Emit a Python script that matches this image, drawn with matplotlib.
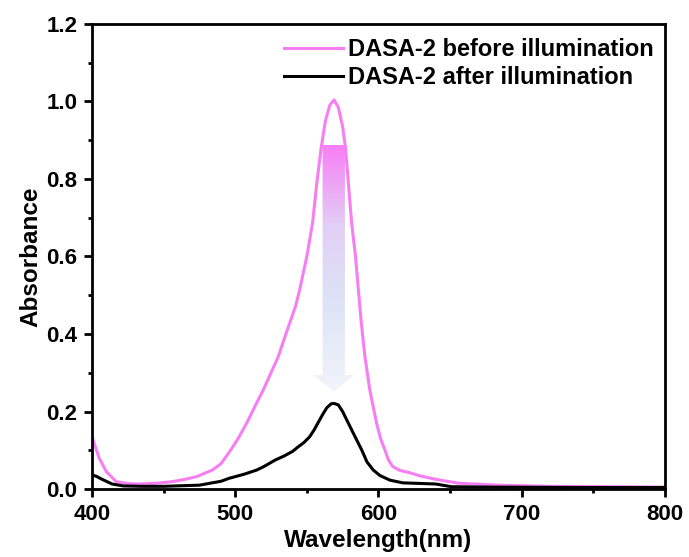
import numpy as np
import matplotlib.pyplot as plt
from matplotlib.patches import Polygon
from matplotlib.colors import LinearSegmentedColormap

plt.rcParams['font.family'] = ['Liberation Sans', 'DejaVu Sans']
plt.rcParams['font.weight'] = 'bold'

### data
wl_before = [400, 405, 410, 417, 425, 433, 445, 456, 465, 473, 484, 490, 496, 502, 508,
             514, 519.5, 525, 530, 534, 538, 542, 545, 550, 554, 557, 560, 563, 566, 569,
             572, 575, 577, 579, 581.3, 584, 586, 588, 590.6, 594, 598.7, 601.5, 604.5, 607, 610,
             615, 622, 629, 640, 656, 684, 720, 760, 800]
abs_before = [0.135, 0.08, 0.045, 0.019, 0.014, 0.013, 0.015, 0.019, 0.025, 0.032, 0.049, 0.065, 0.096, 0.13, 0.17,
              0.215, 0.255, 0.30, 0.341, 0.385, 0.428, 0.47, 0.514, 0.60, 0.686, 0.79, 0.88, 0.95, 0.99, 1.004,
              0.985, 0.935, 0.88, 0.79, 0.686, 0.60, 0.514, 0.43, 0.341, 0.255, 0.17, 0.13, 0.101, 0.075, 0.058,
              0.048, 0.042, 0.034, 0.025, 0.015, 0.01, 0.007, 0.006, 0.005]

wl_after = [400, 403, 406, 410, 414, 422, 435, 450, 475, 490, 496, 506, 515, 520, 528,
            534, 540, 544, 548, 552, 555, 558, 561, 564, 567, 569, 572, 575, 579, 583,
            588.3, 592, 596.4, 601, 608, 617, 640, 651, 680, 740, 800]
abs_after = [0.036, 0.033, 0.027, 0.02, 0.013, 0.008, 0.007, 0.007, 0.01, 0.02, 0.028, 0.038, 0.049, 0.058, 0.075,
             0.085, 0.097, 0.109, 0.12, 0.135, 0.152, 0.172, 0.192, 0.21, 0.22, 0.221, 0.217, 0.20, 0.17, 0.14,
             0.101, 0.07, 0.049, 0.035, 0.023, 0.016, 0.013, 0.006, 0.005, 0.004, 0.004]

# arrow (wavelength, absorbance)
arrow_x = [561, 576.6, 576.6, 583, 568.8, 554.5, 561]
arrow_y = [0.888, 0.888, 0.294, 0.294, 0.251, 0.294, 0.294]

fig = plt.figure(figsize=(6.89, 5.57), dpi=100)
ax = fig.add_axes([0.1335, 0.122, 0.8315, 0.835])

ax.plot(wl_before, abs_before, color='#f77ef2', lw=2.2, label='DASA-2 before illumination')
ax.plot(wl_after, abs_after, color='black', lw=2.2, label='DASA-2 after illumination')

# gradient arrow
cmap = LinearSegmentedColormap.from_list('arr', ['#f3f4fb', '#dde5f6', '#e2d0f5', '#f77ff6'])
grad = np.linspace(0, 1, 256).reshape(-1, 1)
im = ax.imshow(grad, cmap=cmap, aspect='auto', origin='lower',
               extent=[554.5, 583, 0.251, 0.888], zorder=3)
poly = Polygon(list(zip(arrow_x, arrow_y)), closed=True, facecolor='none', edgecolor='none')
ax.add_patch(poly)
im.set_clip_path(poly)

ax.set_xlim(400, 800)
ax.set_ylim(0, 1.2)
ax.set_xticks([400, 500, 600, 700, 800])
ax.set_yticks([0.0, 0.2, 0.4, 0.6, 0.8, 1.0, 1.2])
ax.set_xticks(np.arange(450, 800, 100), minor=True)
ax.set_yticks(np.arange(0.1, 1.2, 0.2), minor=True)
ax.tick_params(which='major', direction='out', length=5.5, width=2, labelsize=16, pad=5)
ax.tick_params(which='minor', direction='out', length=3, width=2)
for s in ax.spines.values():
    s.set_linewidth(2)

ax.set_xlabel('Wavelength(nm)', fontsize=17.5, fontweight='bold', labelpad=3)
ax.set_ylabel('Absorbance', fontsize=17.5, fontweight='bold', labelpad=3)

leg = ax.legend(loc='upper right', bbox_to_anchor=(1.005, 1.0), frameon=False,
                handlelength=2.5, handletextpad=0.2, borderaxespad=0.2, labelspacing=0.2,
                prop={'weight': 'bold', 'size': 17})

plt.savefig('out.png', dpi=100)
